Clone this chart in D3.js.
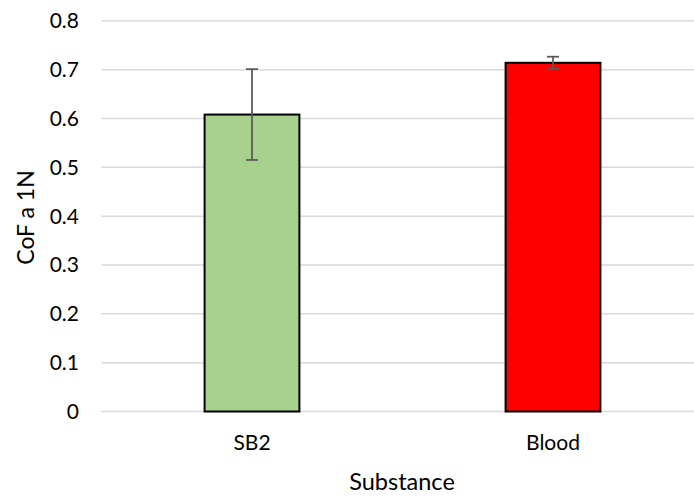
<!DOCTYPE html>
<html><head><meta charset="utf-8">
<script src="https://cdn.jsdelivr.net/npm/d3@7"></script>
<style>body{margin:0;background:#fff}svg{display:block}</style>
</head><body><svg id="c" width="694" height="496"></svg>
<script>
const categories = ["SB2", "Blood"];
const values = [0.608, 0.714];
const errors = [0.093, 0.0125];
const colors = ["#a9d18e", "#ff0000"];
const yTicks = [0, 0.1, 0.2, 0.3, 0.4, 0.5, 0.6, 0.7, 0.8];

(function(){
const svg = d3.select("#c");
const font = "Lato, 'Open Sans', sans-serif";
const pLeft = 101.5, pRight = 703.5, pTop = 20.8, pBottom = 411.5;
const x = d3.scaleBand().domain(categories).range([pLeft, pRight]).paddingInner(0).paddingOuter(0);
const y = d3.scaleLinear().domain([0, 0.8]).range([pBottom, pTop]);
const bw = x.bandwidth() * 0.315;

svg.append("g").selectAll("line").data(yTicks).join("line")
  .attr("x1", pLeft).attr("x2", pRight)
  .attr("y1", d => y(d)).attr("y2", d => y(d))
  .attr("stroke", "#d9d9d9").attr("stroke-width", 1.5);

svg.append("g").selectAll("text").data(yTicks).join("text")
  .attr("x", 79).attr("y", d => y(d)).attr("dy", "0.35em")
  .attr("text-anchor", "end").attr("font-family", font).attr("font-size", 21).attr("fill", "#000")
  .text(d => d === 0 ? "0" : d3.format(".1f")(d));

svg.append("g").selectAll("rect").data(categories).join("rect")
  .attr("x", d => x(d) + x.bandwidth()/2 - bw/2)
  .attr("y", (d,i) => y(values[i]))
  .attr("width", bw)
  .attr("height", (d,i) => y(0) - y(values[i]))
  .attr("fill", (d,i) => colors[i]).attr("stroke", "#000").attr("stroke-width", 2);

const eb = svg.append("g").attr("stroke", "#595959").attr("stroke-width", 1.75);
categories.forEach((c, i) => {
  const cx = x(c) + x.bandwidth()/2;
  const y1 = y(values[i] + errors[i]), y2 = y(values[i] - errors[i]);
  eb.append("line").attr("x1", cx).attr("x2", cx).attr("y1", y1).attr("y2", y2);
  eb.append("line").attr("x1", cx-6).attr("x2", cx+6).attr("y1", y1).attr("y2", y1);
  eb.append("line").attr("x1", cx-6).attr("x2", cx+6).attr("y1", y2).attr("y2", y2);
});

svg.append("g").selectAll("text").data(categories).join("text")
  .attr("x", d => x(d) + x.bandwidth()/2).attr("y", 443).attr("dy", "0.35em")
  .attr("text-anchor", "middle").attr("font-family", font).attr("font-size", 21).attr("fill", "#000")
  .text(d => d);

svg.append("text").attr("x", 402).attr("y", 482).attr("dy", "0.35em")
  .attr("text-anchor", "middle").attr("font-family", font).attr("font-size", 23.5).attr("fill", "#000")
  .text("Substance");

svg.append("text").attr("transform", "translate(26,217.5) rotate(-90)").attr("dy", "0.35em")
  .attr("text-anchor", "middle").attr("font-family", font).attr("font-size", 23).attr("fill", "#000")
  .text("CoF a 1N");
})();
</script></body></html>
